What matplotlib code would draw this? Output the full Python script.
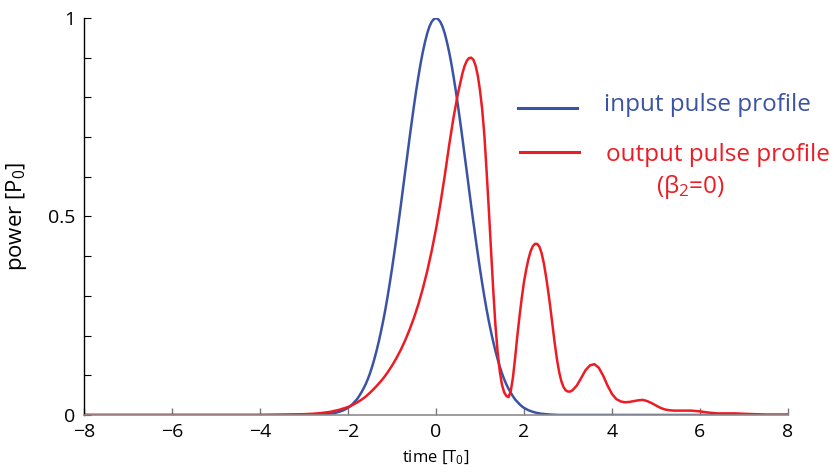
import matplotlib
matplotlib.use("Agg")
import matplotlib.pyplot as plt
from matplotlib.lines import Line2D

plt.rcParams["font.family"] = ["Open Sans", "DejaVu Sans"]
plt.rcParams["mathtext.default"] = "regular"

t_in = [-8.0, -3.0, -2.8, -2.6, -2.5, -2.4, -2.3, -2.2, -2.1, -2.0, -1.95, -1.9, -1.85,
        -1.8, -1.75, -1.7, -1.65, -1.6, -1.55, -1.5, -1.45, -1.4, -1.35, -1.3, -1.25,
        -1.2, -1.15, -1.1, -1.05, -1.0, -0.95, -0.9, -0.85, -0.8, -0.75, -0.7, -0.65,
        -0.6, -0.55, -0.5, -0.45, -0.4, -0.35, -0.3, -0.25, -0.2, -0.15, -0.1, -0.05,
        0.0, 0.05, 0.1, 0.15, 0.2, 0.25, 0.3, 0.35, 0.4, 0.45, 0.5, 0.55, 0.6, 0.65,
        0.7, 0.75, 0.8, 0.85, 0.9, 0.95, 1.0, 1.05, 1.1, 1.15, 1.2, 1.25, 1.3, 1.35,
        1.4, 1.45, 1.5, 1.55, 1.6, 1.65, 1.7, 1.75, 1.8, 1.85, 1.9, 1.95, 2.0, 2.1,
        2.2, 2.3, 2.4, 2.5, 2.6, 2.8, 3.0, 8.0]
p_in = [0.0, 0.0, 0.0, 0.001, 0.002, 0.003, 0.005, 0.008, 0.012, 0.018, 0.022, 0.027,
        0.033, 0.039, 0.047, 0.056, 0.066, 0.077, 0.090, 0.105, 0.122, 0.141, 0.162,
        0.185, 0.210, 0.237, 0.266, 0.298, 0.332, 0.368, 0.406, 0.445, 0.486, 0.527,
        0.570, 0.613, 0.655, 0.698, 0.739, 0.779, 0.817, 0.852, 0.885, 0.914, 0.939,
        0.961, 0.978, 0.990, 0.997, 1.0, 0.997, 0.990, 0.978, 0.961, 0.939, 0.914,
        0.885, 0.852, 0.817, 0.779, 0.739, 0.698, 0.655, 0.613, 0.570, 0.527, 0.486,
        0.445, 0.406, 0.368, 0.332, 0.298, 0.266, 0.237, 0.210, 0.185, 0.162, 0.141,
        0.122, 0.105, 0.090, 0.077, 0.066, 0.056, 0.047, 0.039, 0.033, 0.027, 0.022,
        0.018, 0.012, 0.008, 0.005, 0.003, 0.002, 0.001, 0.0, 0.0, 0.0]

# output pulse after propagation
t_out = [-8.0, -4.0, -3.5, -3.0, -2.8, -2.6, -2.4, -2.2, -2.0, -1.9, -1.8, -1.7, -1.6,
         -1.5, -1.4, -1.3, -1.2, -1.1, -1.0, -0.9, -0.8, -0.7, -0.6, -0.5, -0.4,
         -0.3, -0.2, -0.1, 0.0, 0.1, 0.2, 0.3, 0.4, 0.5, 0.6, 0.65, 0.7, 0.75, 0.8,
         0.85, 0.9, 0.95, 1.0, 1.05, 1.1, 1.15, 1.2, 1.25, 1.3, 1.35, 1.4, 1.45, 1.5,
         1.55, 1.6, 1.65, 1.7, 1.75, 1.8, 1.85, 1.9, 1.95, 2.0, 2.05, 2.1, 2.15, 2.2,
         2.25, 2.3, 2.35, 2.4, 2.45, 2.5, 2.55, 2.6, 2.65, 2.7, 2.75, 2.8, 2.85, 2.9,
         2.95, 3.0, 3.05, 3.1, 3.2, 3.3, 3.4, 3.5, 3.6, 3.7, 3.8, 3.9, 4.0, 4.1, 4.2,
         4.3, 4.4, 4.5, 4.6, 4.7, 4.8, 4.9, 5.0, 5.1, 5.2, 5.3, 5.4, 5.6, 5.8, 6.0,
         6.2, 6.4, 6.6, 6.8, 7.0, 7.5, 8.0]
p_out = [0.0, 0.0, 0.001, 0.002, 0.003, 0.005, 0.008, 0.013, 0.020, 0.025, 0.031,
         0.038, 0.046, 0.056, 0.067, 0.079, 0.092, 0.107, 0.124, 0.143, 0.164, 0.188,
         0.215, 0.245, 0.279, 0.318, 0.362, 0.412, 0.468, 0.532, 0.603, 0.680, 0.750,
         0.810, 0.860, 0.879, 0.892, 0.899, 0.900, 0.895, 0.880, 0.855, 0.818, 0.770,
         0.705, 0.615, 0.520, 0.418, 0.318, 0.228, 0.160, 0.110, 0.076, 0.057, 0.048,
         0.045, 0.060, 0.095, 0.145, 0.200, 0.250, 0.295, 0.335, 0.366, 0.392, 0.412,
         0.425, 0.431, 0.431, 0.424, 0.408, 0.383, 0.350, 0.312, 0.270, 0.225, 0.180,
         0.140, 0.108, 0.085, 0.070, 0.062, 0.059, 0.059, 0.062, 0.074, 0.093, 0.113,
         0.125, 0.128, 0.119, 0.099, 0.074, 0.053, 0.040, 0.034, 0.032, 0.033, 0.035,
         0.037, 0.038, 0.035, 0.030, 0.024, 0.018, 0.014, 0.012, 0.011, 0.011, 0.011,
         0.009, 0.006, 0.004, 0.004, 0.004, 0.003, 0.001, 0.001]

x_ticks = [-8, -6, -4, -2, 0, 2, 4, 6, 8]
y_ticks = [0, 0.5, 1]
y_minor = [0.1, 0.2, 0.3, 0.4, 0.6, 0.7, 0.8, 0.9]

blue = "#3a53a4"
red = "#ed1c24"

fig = plt.figure(figsize=(8.34, 4.72), dpi=100)
ax = fig.add_axes([0.1007, 0.1208, 0.8441, 0.8411])

ax.plot(t_in, p_in, color=blue, lw=1.8, solid_joinstyle="round")
ax.plot(t_out, p_out, color=red, lw=1.8, solid_joinstyle="round")

ax.set_xlim(-8, 8)
ax.set_ylim(0, 1)
ax.set_xticks(x_ticks)
ax.set_xticklabels([str(v).replace("-", "\u2212") for v in x_ticks])
ax.set_yticks(y_ticks)
ax.set_yticklabels(["0", "0.5", "1"])
ax.set_yticks(y_minor, minor=True)

for s in ["top", "right"]:
    ax.spines[s].set_visible(False)
ax.spines["bottom"].set_color("#8c8c8c")
ax.spines["bottom"].set_linewidth(1.2)
ax.spines["left"].set_linewidth(1.0)

ax.tick_params(axis="y", which="both", direction="in", length=5, width=0.8,
               labelsize=14, pad=6)
ax.tick_params(axis="x", direction="in", length=5, width=1.0, color="#777777",
               labelsize=14, pad=6)

ax.set_ylabel("power [P$_0$]", fontsize=16, labelpad=14)
ax.set_xlabel("time [T$_0$]", fontsize=12, labelpad=5)

# legend drawn by hand
fig.add_artist(Line2D([0.621, 0.692], [0.771, 0.771], color=blue, lw=2.2))
fig.add_artist(Line2D([0.624, 0.694], [0.678, 0.678], color=red, lw=2.2))
fig.text(0.724, 0.777, "input pulse profile", color=blue, fontsize=17.5, va="center")
fig.text(0.727, 0.671, "output pulse profile", color=red, fontsize=17.5, va="center")
fig.text(0.828, 0.603, "(\u03b2$_2$=0)", color=red, fontsize=17.5, va="center", ha="center")

fig.savefig("out.png", dpi=100)
